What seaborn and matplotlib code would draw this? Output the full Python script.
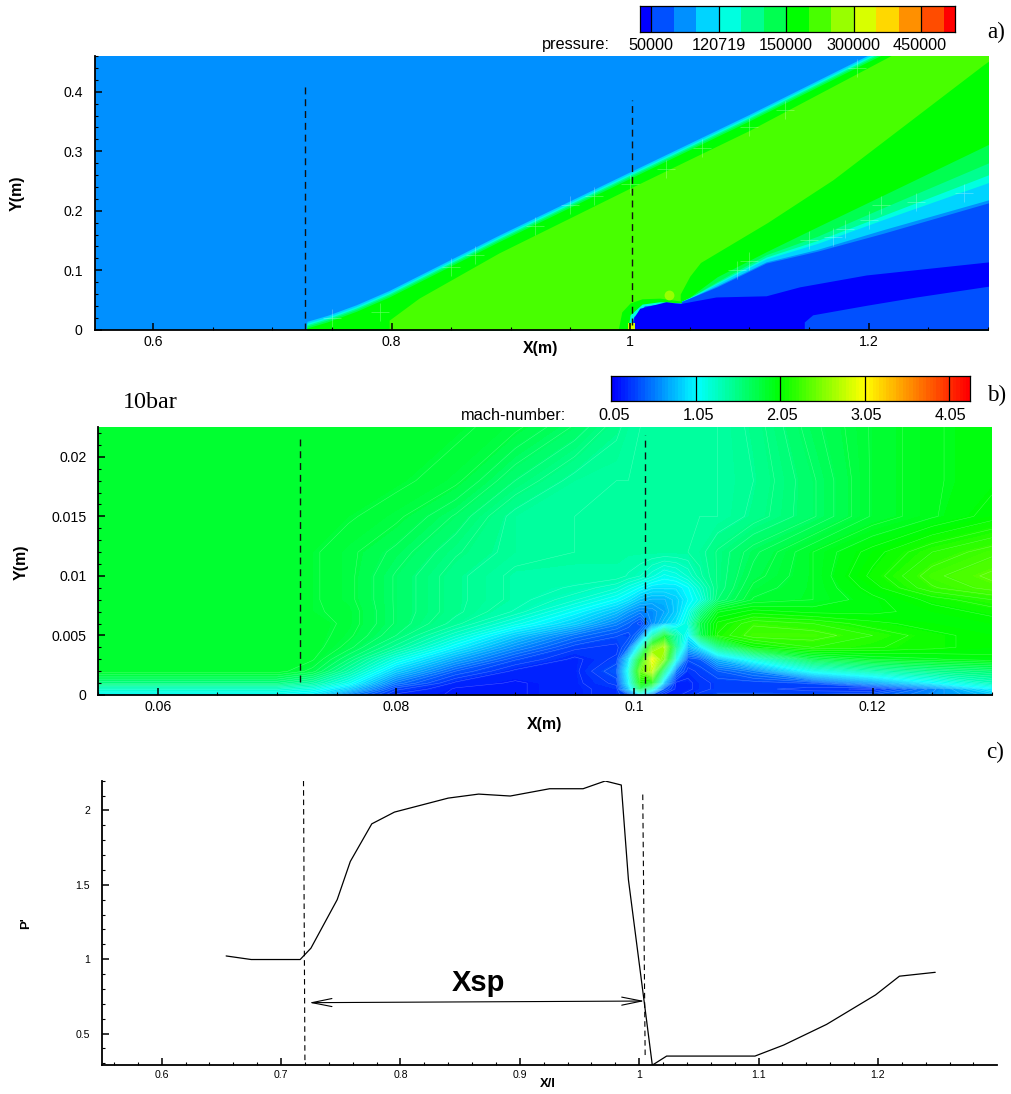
import numpy as np
import pandas as pd
import matplotlib
matplotlib.use("Agg")
import matplotlib.pyplot as plt
from matplotlib.colors import ListedColormap, LinearSegmentedColormap
from matplotlib.ticker import MultipleLocator, FuncFormatter
import seaborn as sns

# ---- panel a: pressure bands, outlines ----
band_colors = ["#0000ff", "#0050ff", "#0090ff", "#00d4ff", "#00ffe0", "#00ff90", "#00ff50", "#00ff00",
               "#48ff00", "#98ff00", "#d8ff00", "#ffd800", "#ff9000", "#ff4c00", "#ff0000"]
pressure_strip = [0, 1, 1, 2, 2, 3, 3, 4, 4, 5, 5, 6, 6, 7, 7, 8, 8, 9, 9, 10, 10, 11, 11, 12, 12, 13, 13, 14]
pressure_labels = ["50000", "120719", "150000", "300000", "450000"]

shock_x = [0.729, 0.729, 0.746, 0.7705, 0.798, 0.89, 1.0, 1.10, 1.20, 1.31]
shock_outer = [0.0, 0.014, 0.024, 0.042, 0.066, 0.159, 0.2655, 0.362, 0.462, 0.569]
shock_drops = [0.003, 0.0055, 0.008, 0.011]
shock_inner_x = [0.798, 0.798, 0.823, 0.89, 1.0, 1.10, 1.218, 1.31]
shock_inner_y = [0.0, 0.016, 0.053, 0.129, 0.238, 0.335, 0.46, 0.556]

edge78_x = [1.042, 1.05, 1.059, 1.115, 1.17, 1.296, 1.31]
edge78_y = [0.06, 0.09, 0.113, 0.18, 0.252, 0.445, 0.465]

fan_x = [1.04, 1.05, 1.073, 1.114, 1.157, 1.212, 1.30, 1.31]
fan_76 = [0.045, 0.055, 0.089, 0.131, 0.173, 0.226, 0.311, 0.32]
fan_65 = [0.045, 0.054, 0.081, 0.126, 0.157, 0.205, 0.280, 0.29]
fan_54 = [0.045, 0.054, 0.079, 0.122, 0.150, 0.192, 0.260, 0.27]
fan_43 = [0.045, 0.053, 0.077, 0.119, 0.145, 0.185, 0.247, 0.255]
fan_32 = [0.045, 0.053, 0.074, 0.114, 0.135, 0.168, 0.218, 0.225]
fan_21 = [0.045, 0.053, 0.072, 0.112, 0.132, 0.162, 0.213, 0.22]

arc7_x = [0.99, 0.993, 1.0, 1.01, 1.025, 1.043]
arc7_y = [0.0, 0.03, 0.045, 0.052, 0.053, 0.048]
arc4_x = [0.998, 1.0, 1.01, 1.025, 1.043]
arc4_y = [0.0, 0.025, 0.043, 0.047, 0.045]
arc1_x = [1.0, 1.003, 1.012, 1.03, 1.043]
arc1_y = [0.0, 0.022, 0.04, 0.044, 0.045]

pocket_x = [1.003, 1.003, 1.008, 1.03, 1.042, 1.072, 1.114, 1.142, 1.198, 1.31]
pocket_y = [0.0, 0.02, 0.036, 0.047, 0.044, 0.055, 0.057, 0.072, 0.092, 0.116]
floor_x = [1.146, 1.146, 1.153, 1.198, 1.24, 1.31]
floor_y = [0.0, 0.013, 0.025, 0.041, 0.055, 0.076]

bubble_x = [1.033]
bubble_y = [0.058]
tip_x = [0.998, 1.004]
tip_y = [0.012, 0.012]

# light mesh crosses that show through the plot
mesh_x = [.75, .79, .85, .87, .92, .95, .97, 1.0, 1.03, 1.06, 1.1, 1.13, 1.19, 1.09, 1.1, 1.15, 1.17, 1.18, 1.2, 1.21,
          1.24, 1.28]
mesh_y = [.02, .03, .105, .125, .175, .21, .225, .245, .27, .305, .34, .37, .44, .1, .115, .15, .155, .17, .185, .21,
          .215, .23]

# ---- panel b: mach number samples ----
mach_x = [0.055, 0.07, 0.073, 0.076, 0.08, 0.085, 0.09, 0.095, 0.0985, 0.0995, 0.1005, 0.1015, 0.1025, 0.1035,
          0.1045, 0.1055, 0.107, 0.11, 0.115, 0.12, 0.125, 0.13]
mach_y = [0, 0.0005, 0.001, 0.002, 0.003, 0.004, 0.005, 0.006, 0.007, 0.008, 0.009, 0.01, 0.012, 0.015, 0.018, 0.0225]
mach_00 = [1.05, 1.05, .95, .55, .2, .15, .15, .2, .25, .35, .9, .4, .2, .2, .25, .3, .35, .35, .35, .4, .6, .8]
mach_01 = [1.25, 1.25, 1.15, .85, .3, .15, .15, .2, .25, .8, 1.7, 1.2, .4, .2, .2, .25, .3, .3, .25, .2, .55, 1.0]
mach_02 = [1.55, 1.55, 1.4, 1.1, .5, .2, .15, .2, .3, 1.0, 2.1, 2.0, .8, .2, .2, .25, .3, .3, .35, .65, 1.0, 1.3]
mach_03 = [1.88, 1.88, 1.75, 1.4, .85, .4, .2, .2, .4, 1.1, 2.4, 2.8, 1.5, .5, .25, .3, .4, .55, 1.1, 1.35, 1.5, 1.6]
mach_04 = [1.88, 1.88, 1.85, 1.6, 1.15, .7, .35, .2, .3, .9, 2.0, 3.0, 2.5, 1.1, .35, .4, .75, 1.15, 1.75, 1.9, 1.95, 2.0]
mach_05 = [1.88, 1.88, 1.88, 1.75, 1.45, 1.0, .6, .3, .25, .45, 1.2, 2.4, 2.7, 1.5, .75, .95, 1.5, 2.05, 2.2, 2.15, 2.1, 2.05]
mach_06 = [1.88, 1.88, 1.88, 1.8, 1.6, 1.25, .85, .5, .35, .3, .55, 1.3, 1.9, 1.4, 1.0, 1.7, 2.15, 2.3, 2.3, 2.2, 2.1, 2.05]
mach_07 = [1.88, 1.88, 1.88, 1.82, 1.65, 1.45, 1.15, .85, .55, .45, .3, .6, .8, .95, 1.2, 1.75, 2.1, 2.25, 2.2, 2.1, 2.05, 2.05]
mach_08 = [1.88, 1.88, 1.85, 1.82, 1.65, 1.5, 1.35, 1.05, .8, .65, .55, .6, .7, .85, 1.1, 1.5, 1.95, 2.05, 2.0, 2.0, 2.05, 2.1]
mach_09 = [1.88, 1.88, 1.85, 1.8, 1.65, 1.5, 1.4, 1.25, 1.05, .95, .8, .75, .75, .85, 1.0, 1.15, 1.6, 1.85, 1.9, 2.0, 2.1, 2.2]
mach_10 = [1.88, 1.88, 1.85, 1.8, 1.65, 1.5, 1.4, 1.35, 1.25, 1.15, 1.05, .95, .95, .95, 1.05, 1.25, 1.55, 1.8, 1.9, 2.05, 2.25, 2.35]
mach_11 = [1.88, 1.88, 1.85, 1.8, 1.65, 1.5, 1.4, 1.4, 1.4, 1.35, 1.3, 1.2, 1.1, 1.15, 1.25, 1.4, 1.55, 1.75, 1.9, 2.1, 2.3, 2.4]
mach_12 = [1.88, 1.88, 1.85, 1.8, 1.7, 1.55, 1.45, 1.42, 1.42, 1.42, 1.42, 1.42, 1.42, 1.42, 1.42, 1.45, 1.55, 1.7, 1.9, 2.05, 2.2, 2.3]
mach_13 = [1.88, 1.88, 1.88, 1.85, 1.8, 1.65, 1.45, 1.42, 1.42, 1.42, 1.42, 1.42, 1.42, 1.42, 1.42, 1.42, 1.42, 1.5, 1.65, 1.85, 1.95, 2.05]
mach_14 = [1.88, 1.88, 1.88, 1.88, 1.86, 1.8, 1.6, 1.45, 1.42, 1.42, 1.42, 1.42, 1.42, 1.42, 1.42, 1.42, 1.42, 1.48, 1.65, 1.85, 1.95, 2.0]
mach_15 = [1.88, 1.88, 1.88, 1.88, 1.88, 1.86, 1.8, 1.65, 1.5, 1.45, 1.42, 1.42, 1.42, 1.42, 1.42, 1.42, 1.42, 1.5, 1.7, 1.85, 1.95, 2.0]
mach_labels = ["0.05", "1.05", "2.05", "3.05", "4.05"]
mach_ticks = [0.05, 1.05, 2.05, 3.05, 4.05]

# ---- panel c: wall pressure curve ----
xl = [.654, .675, .716, .725, .747, .758, .776, .795, .840, .8655, .892, .925, .953, .9715, .985, .991, 1.004, 1.011,
      1.023, 1.097, 1.121, 1.157, 1.198, 1.218, 1.248]
p_ratio = [1.022, .998, .998, 1.074, 1.40, 1.657, 1.91, 1.989, 2.083, 2.11, 2.097, 2.146, 2.146, 2.198, 2.171, 1.534,
           .726, .288, .349, .349, .423, .562, .76, .886, .912]

W, H = 1011, 1094

sns.set_theme(style="ticks", rc={'text.color': 'black', 'axes.labelcolor': 'black', 'xtick.color': 'black',
                                 'ytick.color': 'black', 'axes.edgecolor': 'black'})
plt.rcParams['font.family'] = ['Liberation Sans', 'DejaVu Sans']


def box(left, top, right, bottom):
    return [left / W, 1 - bottom / H, (right - left) / W, (bottom - top) / H]


def put(px, py, s, **kw):
    fig.text(px / W, 1 - py / H, s, ha=kw.pop('ha', 'center'), va='center', **kw)


def num(v, pos):
    return f"{v:g}"


def style_axes(ax, xmaj, xmin, ymaj, ymin, size, ypad):
    ax.xaxis.set_major_locator(MultipleLocator(xmaj))
    ax.xaxis.set_minor_locator(MultipleLocator(xmin))
    ax.yaxis.set_major_locator(MultipleLocator(ymaj))
    ax.yaxis.set_minor_locator(MultipleLocator(ymin))
    ax.xaxis.set_major_formatter(FuncFormatter(num))
    ax.yaxis.set_major_formatter(FuncFormatter(num))
    ax.tick_params(which='major', direction='in', length=5, width=1.1, labelsize=size, color='black')
    ax.tick_params(which='minor', direction='in', length=2.5, width=0.8, color='black')
    ax.tick_params(axis='x', which='major', pad=3.5)
    ax.tick_params(axis='y', which='major', pad=ypad)
    ax.set_xlabel('')
    ax.set_ylabel('')
    for s in ['left', 'bottom']:
        ax.spines[s].set_linewidth(1.3)
        ax.spines[s].set_zorder(10)
    for s in ['top', 'right']:
        ax.spines[s].set_visible(False)
    ax.set_axisbelow(False)


def strip(pos, values, cmap, vmin, vmax, lines):
    cax = fig.add_axes(box(*pos))
    sns.heatmap(np.array([values]), ax=cax, cmap=cmap, vmin=vmin, vmax=vmax, cbar=False,
                xticklabels=False, yticklabels=False)
    for v in lines:
        cax.axvline(v, color='black', lw=0.9)
    for s in cax.spines.values():
        s.set_visible(True)
        s.set_linewidth(0.9)
        s.set_color('black')
    return cax


fig = plt.figure(figsize=(W / 100, H / 100), dpi=100)

# ---- a) pressure ----
ax1 = fig.add_axes(box(94.5, 56, 988, 329.7))
ax1.set_facecolor(band_colors[2])
ax1.set_xlim(0.551, 1.3)
ax1.set_ylim(0, 0.46)


def paint(ax, x, y, band):
    ax.fill_between(x, 0, y, color=band_colors[band], lw=0)


paint(ax1, shock_x, shock_outer, 3)
for band, drop in zip([4, 5, 6, 7], shock_drops):
    paint(ax1, shock_x, np.array(shock_outer) - drop, band)
paint(ax1, shock_inner_x, shock_inner_y, 8)
paint(ax1, edge78_x, edge78_y, 7)
for band, edge in zip([6, 5, 4, 3, 2, 1], [fan_76, fan_65, fan_54, fan_43, fan_32, fan_21]):
    paint(ax1, fan_x, edge, band)
paint(ax1, arc7_x, arc7_y, 7)
paint(ax1, arc4_x, arc4_y, 4)
paint(ax1, arc1_x, arc1_y, 1)
paint(ax1, pocket_x, pocket_y, 0)
paint(ax1, floor_x, floor_y, 1)
paint(ax1, tip_x, tip_y, 10)
ax1.scatter(bubble_x, bubble_y, s=50, color=band_colors[9], lw=0, zorder=3)
ax1.scatter(mesh_x, mesh_y, s=160, marker='+', color='white', alpha=0.35, linewidths=0.5, zorder=3)
style_axes(ax1, 0.2, 0.05, 0.1, 0.02, 10.2, 8.5)
ax1.plot([0.7275, 0.7275], [0, 0.41], color='#111111', lw=1, dashes=(5, 3.5))
ax1.plot([1.0015, 1.0015], [0.008, 0.386], color='#111111', lw=1, dashes=(5, 3.5))

strip((640, 5.5, 955, 31.5), pressure_strip, ListedColormap(band_colors), -0.5, 14.5, [1, 7, 13, 19, 25])
put(576, 45, "pressure:", fontsize=11.7)
for px, lab in zip([651, 719, 786, 853, 920], pressure_labels):
    put(px, 45, lab, fontsize=11.7)

# ---- b) mach number ----
mach_cmap = LinearSegmentedColormap.from_list(
    "small_rainbow",
    [(0.0, "#0000ff"), (0.236, "#00ffff"), (0.472, "#00ff00"), (0.708, "#ffff00"), (1.0, "#ff0000")])
mach_vmin, mach_vmax = 0.05, 4.29

ax2 = fig.add_axes(box(98.3, 427, 991.7, 695))
mach_grid = np.array([mach_00, mach_01, mach_02, mach_03, mach_04, mach_05, mach_06, mach_07,
                      mach_08, mach_09, mach_10, mach_11, mach_12, mach_13, mach_14, mach_15])
ax2.contourf(mach_x, mach_y, mach_grid, levels=np.linspace(mach_vmin, mach_vmax, 107), cmap=mach_cmap,
             vmin=mach_vmin, vmax=mach_vmax)
ax2.contour(mach_x, mach_y, mach_grid, levels=np.arange(0.1, 3.2, 0.06), colors='white', linewidths=0.35, alpha=0.3)
ax2.set_xlim(0.055, 0.13)
ax2.set_ylim(0, 0.0225)
style_axes(ax2, 0.02, 0.005, 0.005, 0.001, 10.2, 8.5)
ax2.plot([0.07196, 0.07196], [0.0011, 0.0215], color='#111111', lw=1, dashes=(5, 3.5))
ax2.plot([0.1009, 0.1009], [0, 0.0218], color='#111111', lw=1, dashes=(5, 3.5))

strip((611.3, 375.7, 969.7, 400.7), np.linspace(mach_vmin, mach_vmax, 107), mach_cmap, mach_vmin, mach_vmax,
      [(t - mach_vmin) / (mach_vmax - mach_vmin) * 107 for t in mach_ticks])
put(514, 415.3, "mach-number:", fontsize=11.7)
for px, lab in zip([614, 698, 782, 866, 950], mach_labels):
    put(px, 415.3, lab, fontsize=11.7)

# ---- c) wall pressure ----
ax3 = fig.add_axes(box(102, 780.7, 996.7, 1065.3))
curve = pd.DataFrame({"xl": xl, "p": p_ratio})
sns.lineplot(data=curve, x="xl", y="p", ax=ax3, color='black', lw=0.9, sort=False, estimator=None)
ax3.set_xlim(0.55, 1.2995)
ax3.set_ylim(0.287, 2.2)
style_axes(ax3, 0.1, 0.02, 0.5, 0.1, 7.6, 8.5)
ax3.plot([0.7188, 0.720], [2.2, 0.30], color='black', lw=0.8, dashes=(5, 3.5))
ax3.plot([1.003, 1.005], [2.107, 0.356], color='black', lw=0.8, dashes=(5, 3.5))
ax3.annotate('', xy=(0.7235, 0.708), xytext=(1.0045, 0.719),
             arrowprops=dict(arrowstyle='<->,head_length=1.44,head_width=0.29', color='black', lw=0.8,
                             mutation_scale=10, shrinkA=0, shrinkB=0))
ax3.text(0.8656, 0.84, "Xsp", fontsize=21, fontweight='bold', ha='center', va='center')

# ---- axis titles and panel letters ----
put(541, 349, "X(m)", fontsize=11.5, fontweight='bold')
put(17, 193, "Y(m)", fontsize=11.5, fontweight='bold', rotation=90)
put(544.5, 724, "X(m)", fontsize=11.5, fontweight='bold')
put(21, 562, "Y(m)", fontsize=11.5, fontweight='bold', rotation=90)
put(548, 1084, "X/I", fontsize=9.4, fontweight='bold')
put(26, 923, "P'", fontsize=9.4, fontweight='bold', rotation=90)
serif = ['Liberation Serif', 'DejaVu Serif']
put(996, 32, "a)", fontsize=16.7, family=serif)
put(997, 395, "b)", fontsize=16.7, family=serif)
put(995, 752, "c)", fontsize=16.7, family=serif)
put(150.5, 402, "10bar", fontsize=17.4, family=serif)

fig.savefig("out.png", dpi=100)
